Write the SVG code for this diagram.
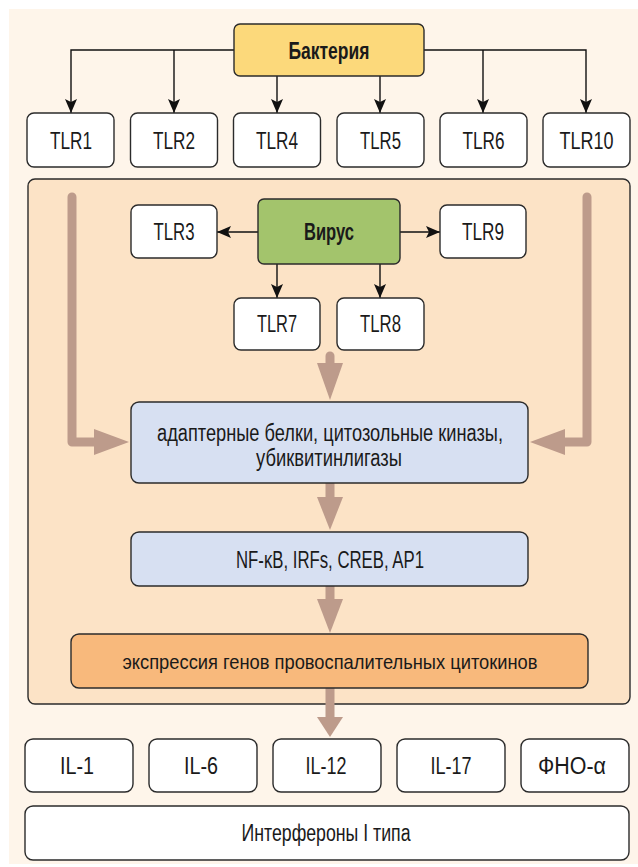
<svg xmlns="http://www.w3.org/2000/svg" width="638" height="867" viewBox="0 0 638 867">
  <defs>
    <style>
      .box { stroke: #2b2b2b; stroke-width: 1.4; }
      .white { fill: #ffffff; }
      .lbl { font-family: "Liberation Sans", Arial, sans-serif; font-size: 23px; fill: #1a1a1a; text-anchor: middle; }
      .long { font-size: 21px; }
      .bold { font-weight: bold; }
      .thin { fill: none; stroke: #111; stroke-width: 1.4; }
      .flow { fill: none; stroke: #bd9b8b; stroke-width: 9; }
      .head { fill: #bd9b8b; }
    </style>
    <marker id="arr" viewBox="0 0 14 12" refX="14" refY="6" markerWidth="14" markerHeight="12" markerUnits="userSpaceOnUse" orient="auto">
      <path d="M0,0 L14,6 L0,12 L3,6 Z" fill="#111"/>
    </marker>
  </defs>

  <!-- page background -->
  <rect x="9" y="9" width="629" height="855" fill="#fef5ea"/>

  <!-- inner signalling area -->
  <rect id="cell" x="28" y="179" width="602" height="525" rx="7" fill="#fce3c6" class="box"/>

  <g id="connectors">
    <!-- bacteria to surface TLRs -->
    <path class="thin" d="M234,50 H71 V113" marker-end="url(#arr)"/>
    <path class="thin" d="M174,50 V113" marker-end="url(#arr)"/>
    <path class="thin" d="M277,76 V113" marker-end="url(#arr)"/>
    <path class="thin" d="M380,76 V113" marker-end="url(#arr)"/>
    <path class="thin" d="M424,50 H586 V113" marker-end="url(#arr)"/>
    <path class="thin" d="M483,50 V113" marker-end="url(#arr)"/>
    <!-- virus to endosomal TLRs -->
    <path class="thin" d="M258,232 H217" marker-end="url(#arr)"/>
    <path class="thin" d="M400,232 H440" marker-end="url(#arr)"/>
    <path class="thin" d="M277,264 V298" marker-end="url(#arr)"/>
    <path class="thin" d="M380,264 V298" marker-end="url(#arr)"/>

    <!-- signalling flow -->
    <path class="flow" d="M72,197 V442 H96" stroke-linecap="round" stroke-linejoin="round"/>
    <polygon class="head" points="94,429 129,442 94,455"/>
    <path class="flow" d="M587,197 V442 H563" stroke-linecap="round" stroke-linejoin="round"/>
    <polygon class="head" points="565,429 530,442 565,455"/>

    <path class="flow" d="M330,356 V365" stroke-linecap="round"/>
    <polygon class="head" points="317,363 343,363 330,400"/>
    <path class="flow" d="M330,483 V499"/>
    <polygon class="head" points="317,497 343,497 330,530"/>
    <path class="flow" d="M330,586 V601"/>
    <polygon class="head" points="317,599 343,599 330,633"/>
    <path class="flow" d="M330,688 V719"/>
    <polygon class="head" points="317,717 343,717 330,737"/>
  </g>

  <g id="bacteria">
    <rect x="234" y="24" width="190" height="52" rx="6" fill="#fcd97b" class="box"/>
    <text x="329" y="59" class="lbl bold" textLength="81" lengthAdjust="spacingAndGlyphs">Бактерия</text>
  </g>

  <g id="tlr1"><rect x="27" y="113" width="87" height="54" rx="7" class="box white"/><text x="71" y="149" class="lbl" textLength="42" lengthAdjust="spacingAndGlyphs">TLR1</text></g>
  <g id="tlr2"><rect x="130.5" y="113" width="87" height="54" rx="7" class="box white"/><text x="174" y="149" class="lbl" textLength="42" lengthAdjust="spacingAndGlyphs">TLR2</text></g>
  <g id="tlr4"><rect x="233.5" y="113" width="87" height="54" rx="7" class="box white"/><text x="277" y="149" class="lbl" textLength="42" lengthAdjust="spacingAndGlyphs">TLR4</text></g>
  <g id="tlr5"><rect x="337" y="113" width="87" height="54" rx="7" class="box white"/><text x="380.5" y="149" class="lbl" textLength="41" lengthAdjust="spacingAndGlyphs">TLR5</text></g>
  <g id="tlr6"><rect x="440" y="113" width="87" height="54" rx="7" class="box white"/><text x="483.5" y="149" class="lbl" textLength="42" lengthAdjust="spacingAndGlyphs">TLR6</text></g>
  <g id="tlr10"><rect x="543" y="113" width="87" height="54" rx="7" class="box white"/><text x="586.5" y="149" class="lbl" textLength="54" lengthAdjust="spacingAndGlyphs">TLR10</text></g>

  <g id="virus">
    <rect x="258" y="199" width="142" height="65" rx="6" fill="#a3c46c" class="box"/>
    <text x="329" y="240" class="lbl bold" textLength="50" lengthAdjust="spacingAndGlyphs">Вирус</text>
  </g>

  <g id="tlr3"><rect x="131" y="205" width="86" height="53" rx="7" class="box white"/><text x="174" y="240" class="lbl" textLength="41" lengthAdjust="spacingAndGlyphs">TLR3</text></g>
  <g id="tlr9"><rect x="440" y="205" width="86" height="53" rx="7" class="box white"/><text x="483" y="240" class="lbl" textLength="42" lengthAdjust="spacingAndGlyphs">TLR9</text></g>
  <g id="tlr7"><rect x="234" y="298" width="86" height="52" rx="7" class="box white"/><text x="277" y="332" class="lbl" textLength="40" lengthAdjust="spacingAndGlyphs">TLR7</text></g>
  <g id="tlr8"><rect x="337" y="298" width="87" height="52" rx="7" class="box white"/><text x="380.5" y="332" class="lbl" textLength="41" lengthAdjust="spacingAndGlyphs">TLR8</text></g>

  <g id="adapters">
    <rect x="131" y="402" width="397" height="81" rx="8" fill="#d7e0f2" class="box"/>
    <text x="330" y="441" class="lbl" textLength="346" lengthAdjust="spacingAndGlyphs">адаптерные белки, цитозольные киназы,</text>
    <text x="329" y="466" class="lbl" textLength="146" lengthAdjust="spacingAndGlyphs">убиквитинлигазы</text>
  </g>

  <g id="factors">
    <rect x="131" y="532" width="397" height="54" rx="8" fill="#d7e0f2" class="box"/>
    <text x="330" y="568" class="lbl" textLength="188" lengthAdjust="spacingAndGlyphs">NF-κB, IRFs, CREB, AP1</text>
  </g>

  <g id="expression">
    <rect x="71" y="634" width="517" height="54" rx="8" fill="#f8b97c" class="box"/>
    <text x="330" y="669" class="lbl long" textLength="415" lengthAdjust="spacingAndGlyphs">экспрессия генов провоспалительных цитокинов</text>
  </g>

  <g id="il1"><rect x="25" y="739" width="108" height="53" rx="8" class="box white"/><text x="77" y="774" class="lbl" textLength="34" lengthAdjust="spacingAndGlyphs">IL-1</text></g>
  <g id="il6"><rect x="149" y="739" width="108" height="53" rx="8" class="box white"/><text x="201" y="774" class="lbl" textLength="34" lengthAdjust="spacingAndGlyphs">IL-6</text></g>
  <g id="il12"><rect x="273" y="739" width="108" height="53" rx="8" class="box white"/><text x="326" y="774" class="lbl" textLength="41" lengthAdjust="spacingAndGlyphs">IL-12</text></g>
  <g id="il17"><rect x="397" y="739" width="108" height="53" rx="8" class="box white"/><text x="451" y="774" class="lbl" textLength="41" lengthAdjust="spacingAndGlyphs">IL-17</text></g>
  <g id="tnf"><rect x="521" y="739" width="108" height="53" rx="8" class="box white"/><text x="572" y="774" class="lbl" textLength="68" lengthAdjust="spacingAndGlyphs">ФНО-α</text></g>

  <g id="interferons">
    <rect x="25" y="806" width="604" height="54" rx="8" class="box white"/>
    <text x="326" y="841" class="lbl" textLength="169" lengthAdjust="spacingAndGlyphs">Интерфероны I типа</text>
  </g>
</svg>
